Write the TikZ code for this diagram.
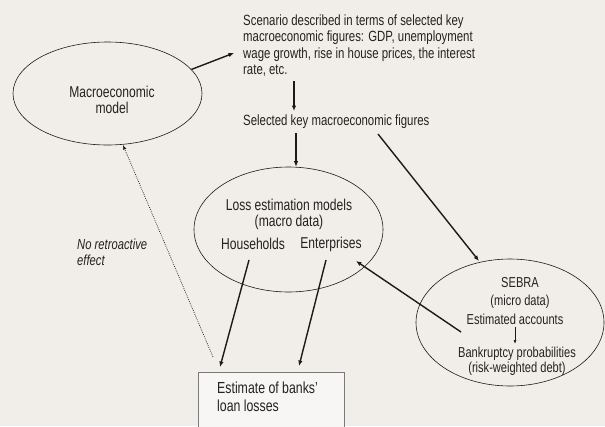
\documentclass[tikz,border=0pt]{standalone}
\usepackage{fontspec}
\setmainfont{Liberation Sans}[FakeStretch=0.77]
\usetikzlibrary{arrows.meta,shapes.geometric}
\definecolor{bg}{HTML}{F1EEE9}
\definecolor{ink}{HTML}{1A1A1A}
\definecolor{txt}{HTML}{222222}
\definecolor{boxline}{HTML}{7A7A7A}
\definecolor{boxfill}{HTML}{F7F6F4}
\tikzset{
  oval/.style={draw=ink,line width=0.6pt,ellipse,inner sep=0pt},
  lbl/.style={text=txt,inner sep=0pt,align=center,font=\fontsize{15.7}{16}\selectfont},
  scen/.style={text=txt,inner sep=0pt,align=left,font=\fontsize{14.8}{16.3}\selectfont},
  arr/.style={draw=ink,line width=1.4pt,-{Latex[length=5.5pt,width=4.5pt]}},
  thinarr/.style={draw=ink,line width=0.7pt,-{Latex[length=4pt,width=3pt]}},
  dotarr/.style={draw=ink,line width=0.7pt,dash pattern=on 0.8pt off 1.2pt,-{Latex[length=4.5pt,width=3.5pt]}},
}
\begin{document}
\begin{tikzpicture}[x=1pt,y=-1pt]
\fill[bg] (0,0) rectangle (605,426);
\useasboundingbox (0,0) rectangle (605,426);
\begin{scope}
\clip (0,0) rectangle (605,426);
% ellipses
\node[oval,minimum width=189pt,minimum height=103pt] (macro) at (107.5,93.5) {};
\node[lbl] (macrotxt) at (112,100) {Macroeconomic\\model};
\node[oval,minimum width=189pt,minimum height=125pt] (loss) at (288.5,229.5) {};
\node[lbl] (losstxt) at (289,214) {Loss estimation models\\(macro data)};
\node[lbl] (hh) at (253,244) {Households};
\node[lbl] (ent) at (331,244) {Enterprises};
\node[oval,minimum width=188pt,minimum height=127pt] (sebra) at (510,322.5) {};
\node[lbl,font=\fontsize{14.4}{18}\selectfont] (sebratxt) at (520,293) {SEBRA\\(micro data)};
\node[lbl,font=\fontsize{14.4}{18}\selectfont] (estacc) at (515,319) {Estimated accounts};
\node[lbl,font=\fontsize{14.4}{15}\selectfont] (bank) at (517,361.5) {Bankruptcy probabilities\\(risk-weighted debt)};
% texts
\node[scen,anchor=west] (scenario) at (243,45.5) {Scenario described in terms of selected key\\macroeconomic figures: GDP, unemployment\\wage growth, rise in house prices, the interest\\rate, etc.};
\node[scen,anchor=west] (sel) at (243,122) {Selected key macroeconomic figures};
\node[scen,anchor=west,font=\fontsize{14.6}{16}\selectfont\itshape] (noretro) at (77,252) {No retroactive\\effect};
% box
\draw[draw=boxline,fill=boxfill,line width=1pt] (198,372) rectangle (344,440);
\node[lbl,anchor=west,align=left,font=\fontsize{16}{18}\selectfont] (boxtxt) at (217,397) {Estimate of banks'\\loan losses};
\coordinate (boxL) at (220,367);
\coordinate (boxR) at (299,366);
\coordinate (boxD) at (213,357);
% connectors
\coordinate (scenL) at (234,53);
\draw[arr] (macro.16) -- (scenL);
\coordinate (scenB) at (294,81);
\coordinate (selT) at (294,111);
\draw[arr] (scenB) -- (selT);
\coordinate (selB) at (296,133);
\draw[arr] (selB) -- (loss.north -| selB);
\coordinate (selR) at (378,134);
\coordinate (sebT) at (479,261);
\draw[arr] (selR) -- (sebT);
\coordinate (hhB) at (249,260);
\draw[arr] (hhB) -- (boxL);
\coordinate (entB) at (326,260);
\draw[arr] (entB) -- (boxR);
\coordinate (sebL) at (461,332);
\coordinate (entR) at (356,261);
\draw[arr] (sebL) -- (entR);
\coordinate (estB) at (515,327);
\coordinate (bankT) at (515,344);
\draw[thinarr] (estB) -- (bankT);
\coordinate (macroB) at (123,145);
\draw[dotarr] (boxD) -- (macroB);
\end{scope}
\end{tikzpicture}
\end{document}
